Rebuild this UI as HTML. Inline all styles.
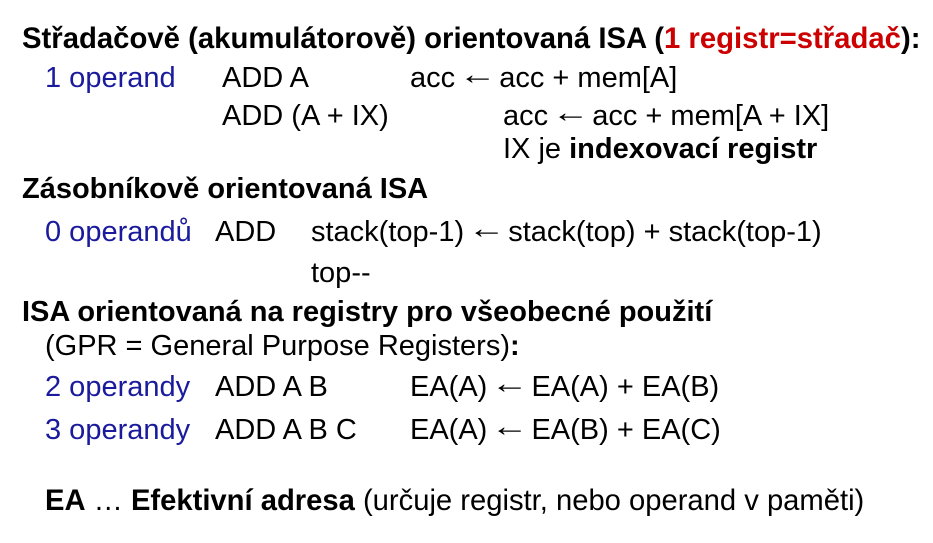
<!DOCTYPE html>
<html><head><meta charset="utf-8"><style>
html,body{margin:0;padding:0;background:#fff;}
body{width:933px;height:543px;position:relative;overflow:hidden;font-family:"Liberation Sans",Arial,sans-serif;color:#000;font-size:29px;}
.t{position:absolute;white-space:nowrap;line-height:30px;height:30px;}
.b{font-weight:bold;}
.bl{color:#1a1a9c;}
.r{color:#cc0000;}
.a{display:inline-block;width:28px;text-align:center;transform:translateY(-3px) scaleX(1.3);}
</style></head><body>
<div class="t b" style="left:22px;top:24px;font-size:29.3px">Střadačově (akumulátorově) orientovaná ISA (<span class="r">1 registr=střadač</span>):</div>
<div class="t bl" style="left:45px;top:63px">1 operand</div>
<div class="t" style="left:222px;top:63px">ADD A</div>
<div class="t" style="left:410px;top:63px">acc <span class="a">←</span> acc + mem[A]</div>
<div class="t" style="left:222px;top:101px">ADD (A + IX)</div>
<div class="t" style="left:503px;top:101px">acc <span class="a">←</span> acc + mem[A + IX]</div>
<div class="t" style="left:503px;top:134px">IX je <b>indexovací registr</b></div>
<div class="t b" style="left:22px;top:174px">Zásobníkově orientovaná ISA</div>
<div class="t bl" style="left:45px;top:217px">0 operandů</div>
<div class="t" style="left:215px;top:217px">ADD</div>
<div class="t" style="left:311px;top:217px">stack(top-1) <span class="a">←</span> stack(top) + stack(top-1)</div>
<div class="t" style="left:311px;top:258px">top--</div>
<div class="t b" style="left:22px;top:297px">ISA orientovaná na registry pro všeobecné použití</div>
<div class="t" style="left:45px;top:331px">(GPR = General Purpose Registers)<b>:</b></div>
<div class="t bl" style="left:45px;top:372px">2 operandy</div>
<div class="t" style="left:215px;top:372px">ADD A B</div>
<div class="t" style="left:410px;top:372px">EA(A) <span class="a">←</span> EA(A) + EA(B)</div>
<div class="t bl" style="left:45px;top:415px">3 operandy</div>
<div class="t" style="left:215px;top:415px">ADD A B C</div>
<div class="t" style="left:410px;top:415px">EA(A) <span class="a">←</span> EA(B) + EA(C)</div>
<div class="t" style="left:45px;top:486px;font-size:29.2px"><b>EA</b> … <b>Efektivní adresa</b> (určuje registr, nebo operand v paměti)</div>
</body></html>
